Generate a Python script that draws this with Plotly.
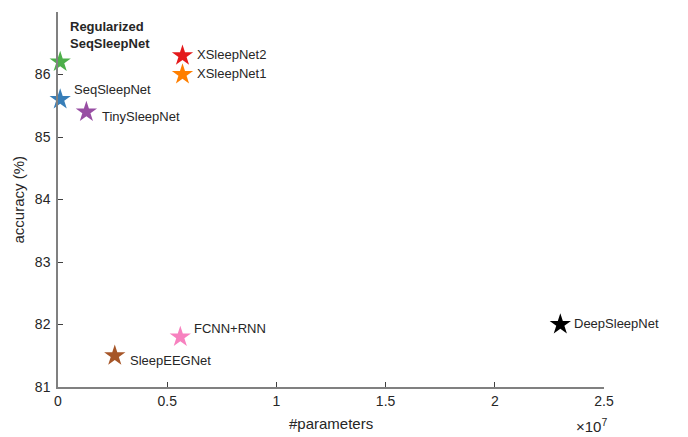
import plotly.graph_objects as go

models = ["Regularized<br>SeqSleepNet", "SeqSleepNet", "TinySleepNet", "XSleepNet2", "XSleepNet1",
          "FCNN+RNN", "SleepEEGNet", "DeepSleepNet"]
params = [0.1e6, 0.1e6, 1.3e6, 5.7e6, 5.7e6, 5.6e6, 2.6e6, 2.3e7]
accuracy = [86.2, 85.6, 85.4, 86.3, 86.0, 81.8, 81.5, 82.0]
colors = ["#4daf4a", "#377eb8", "#984ea3", "#e41a1c", "#ff7f00", "#f781bf", "#a65628", "#000000"]
bold = [True, False, False, False, False, False, False, False]
# label offsets in px (dx, dy) relative to the marker
offsets = [(8, 27), (12, 10), (14, -4), (13, 1), (13, 1), (12, 9), (13, -5), (12, 1)]
xticks = [0, 0.5e7, 1e7, 1.5e7, 2e7, 2.5e7]
xticklabels = ["0", "0.5", "1", "1.5", "2", "2.5"]
yticks = [81, 82, 83, 84, 85, 86, 87]

FONT = "Liberation Sans, Arial, Helvetica, sans-serif"
TXT = "#262626"
fig = go.Figure()
annotations = []
for m, x, y, c, b, (dx, dy) in zip(models, params, accuracy, colors, bold, offsets):
    fig.add_trace(go.Scatter(x=[x], y=[y], mode="markers",
                             marker=dict(symbol="star", size=16, color=c, line=dict(width=0)),
                             showlegend=False, cliponaxis=False))
    annotations.append(dict(x=x, y=y, xref="x", yref="y", text=(f"<b>{m}</b>" if b else m),
                            showarrow=False, xanchor="left", yanchor="middle", align="left",
                            xshift=dx, yshift=dy,
                            font=dict(family=FONT, size=13, color=TXT)))

annotations.append(dict(x=2.5e7, y=0, xref="x", yref="paper", text="×10<sup>7</sup>",
                        showarrow=False, xanchor="right", yanchor="top", xshift=5, yshift=-27,
                        font=dict(family=FONT, size=15, color=TXT)))
annotations.append(dict(x=0.5, y=0, xref="paper", yref="paper", text="#parameters",
                        showarrow=False, xanchor="center", yanchor="middle", yshift=-36,
                        font=dict(family=FONT, size=15, color=TXT)))
annotations.append(dict(x=0, y=0.5, xref="paper", yref="paper", text="accuracy (%)",
                        showarrow=False, xanchor="center", yanchor="middle", xshift=-40, textangle=-90,
                        font=dict(family=FONT, size=15, color=TXT)))

axis_common = dict(showgrid=False, zeroline=False, showline=True, linecolor="#808080", linewidth=1.5,
                   ticks="inside", ticklen=5, tickcolor="#404040", tickwidth=1, automargin=False,
                   tickfont=dict(family=FONT, size=14, color=TXT), mirror=False)

# the page body adds an 8px offset, so the figure is sized/margined to compensate
fig.update_layout(
    width=680, height=429,
    margin=dict(l=50, r=84, t=4, b=50),
    plot_bgcolor="white", paper_bgcolor="white",
    xaxis=dict(range=[0, 2.5e7], tickvals=xticks, ticktext=xticklabels, **axis_common),
    yaxis=dict(range=[81, 87], tickvals=yticks, ticklabelstandoff=3, **axis_common),
    annotations=annotations,
)
fig.write_html("out.html")
